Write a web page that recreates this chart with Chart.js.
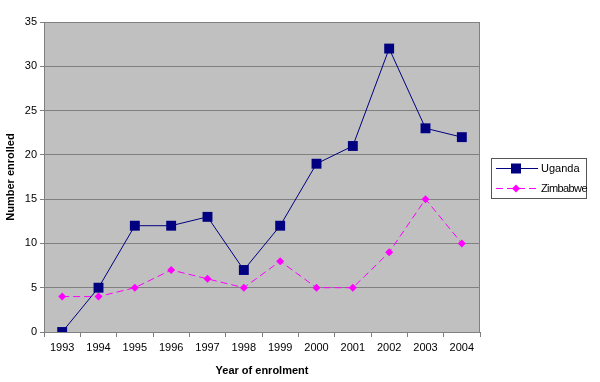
<!DOCTYPE html>
<html>
<head>
<meta charset="utf-8">
<script src="https://cdn.jsdelivr.net/npm/chart.js@4/dist/chart.umd.min.js"></script>
<style>
html,body{margin:0;padding:0;background:#fff;}
#wrap{width:600px;height:382px;position:relative;}
</style>
</head>
<body>
<div id="wrap"><canvas id="c" width="600" height="382"></canvas></div>
<script>
const years = ['1993','1994','1995','1996','1997','1998','1999','2000','2001','2002','2003','2004'];
const uganda = [0, 5, 12, 12, 13, 7, 12, 19, 21, 32, 23, 22];
const zimbabwe = [4, 4, 5, 7, 6, 5, 8, 5, 5, 9, 15, 10];
const yTicks = [0, 5, 10, 15, 20, 25, 30, 35];
const seriesNames = ['Uganda', 'Zimbabwe'];

const FONT = "'Liberation Sans', Arial, sans-serif";

const plotBg = {
  id: 'plotBg',
  beforeDraw(chart) {
    const {ctx, chartArea: a} = chart;
    ctx.save();
    ctx.fillStyle = '#C0C0C0';
    ctx.fillRect(a.left, a.top, a.right - a.left, a.bottom - a.top);
    ctx.restore();
  },
  afterDatasetsDraw(chart) {
    const {ctx, chartArea: a} = chart;
    ctx.save();
    ctx.strokeStyle = '#808080';
    ctx.lineWidth = 1;
    ctx.strokeRect(a.left + 0.5, a.top + 0.5, a.right - a.left - 1, a.bottom - a.top);
    ctx.restore();
  }
};

const customLegend = {
  id: 'customLegend',
  afterDraw(chart) {
    const {ctx} = chart;
    const x0 = 491, y0 = 158, w = 95, h = 40;
    ctx.save();
    ctx.fillStyle = '#fff';
    ctx.fillRect(x0, y0, w, h);
    ctx.strokeStyle = '#555';
    ctx.lineWidth = 1;
    ctx.strokeRect(x0 + 0.5, y0 + 0.5, w, h);
    chart.data.datasets.forEach((ds, i) => {
      const cy = y0 + 10 + i * 20;
      const mx = x0 + 25;
      ctx.strokeStyle = ds.borderColor;
      ctx.lineWidth = 1;
      ctx.setLineDash(ds.borderDash || []);
      ctx.beginPath();
      ctx.moveTo(x0 + 5, cy + 0.5);
      ctx.lineTo(x0 + 47, cy + 0.5);
      ctx.stroke();
      ctx.setLineDash([]);
      ctx.fillStyle = ds.pointBackgroundColor;
      ctx.beginPath();
      if (ds.pointStyle === 'rect') {
        ctx.rect(mx - 5, cy - 4.5, 10, 10);
      } else {
        const r = ds.pointRadius;
        ctx.moveTo(mx - r, cy + 0.5);
        ctx.lineTo(mx, cy + 0.5 - r);
        ctx.lineTo(mx + r, cy + 0.5);
        ctx.lineTo(mx, cy + 0.5 + r);
        ctx.closePath();
      }
      ctx.fill();
      ctx.fillStyle = '#000';
      ctx.font = '11px ' + FONT;
      ctx.textBaseline = 'middle';
      ctx.textAlign = 'left';
      ctx.letterSpacing = i === 1 ? '-0.6px' : '0px';
      ctx.fillText(ds.label, x0 + 50, cy + 1);
      ctx.letterSpacing = '0px';
    });
    ctx.restore();
  }
};

new Chart(document.getElementById('c'), {
  type: 'line',
  data: {
    labels: years,
    datasets: [
      {
        label: seriesNames[0],
        data: uganda,
        borderColor: '#000080',
        borderWidth: 1,
        pointStyle: 'rect',
        pointRadius: 7,
        pointHoverRadius: 7,
        pointBackgroundColor: '#000080',
        pointBorderColor: '#000080',
        pointBorderWidth: 0,
        tension: 0,
        fill: false
      },
      {
        label: seriesNames[1],
        data: zimbabwe,
        borderColor: '#FF00FF',
        borderWidth: 1,
        borderDash: [7, 4],
        pointStyle: 'rectRot',
        pointRadius: 4,
        pointHoverRadius: 4,
        pointBackgroundColor: '#FF00FF',
        pointBorderColor: '#FF00FF',
        pointBorderWidth: 0,
        tension: 0,
        fill: false
      }
    ]
  },
  options: {
    responsive: false,
    animation: false,
    layout: {padding: {top: 22, right: 120, left: 0, bottom: 0}},
    plugins: {legend: {display: false}, tooltip: {enabled: false}},
    scales: {
      x: {
        type: 'category',
        offset: true,
        afterFit(s) { s.height = 50; },
        grid: {offset: true, drawOnChartArea: false, drawTicks: true, tickLength: 5, color: '#808080'},
        border: {display: true, color: '#808080'},
        ticks: {color: '#000', font: {family: FONT, size: 11}, padding: 4, maxRotation: 0, autoSkip: false},
        title: {display: true, text: 'Year of enrolment', color: '#000', font: {family: FONT, size: 11, weight: 'bold'}, padding: {top: 6}}
      },
      y: {
        min: 0,
        max: 35,
        afterFit(s) { s.width = 44; },
        afterBuildTicks(s) { s.ticks = yTicks.map(v => ({value: v})); },
        grid: {color: '#808080', drawTicks: true, tickLength: 4, lineWidth: 1},
        border: {display: true, color: '#808080'},
        ticks: {color: '#000', font: {family: FONT, size: 11}, padding: 3},
        title: {display: true, text: 'Number enrolled', color: '#000', font: {family: FONT, size: 11, weight: 'bold'}, padding: {bottom: 0}}
      }
    }
  },
  plugins: [plotBg, customLegend]
});
</script>
</body>
</html>
